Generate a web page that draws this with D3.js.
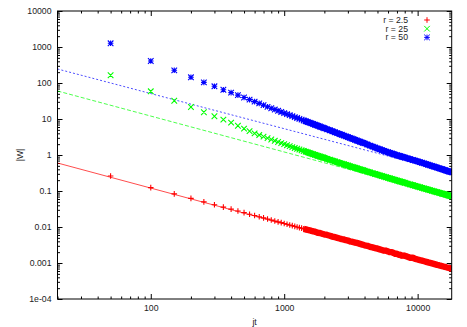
<!DOCTYPE html>
<html><head><meta charset="utf-8">
<script src="https://cdn.jsdelivr.net/npm/d3@7"></script>
<style>
body{margin:0;background:#fff}
svg{display:block}
text{font-family:"Liberation Sans",Arial,sans-serif;font-size:8.7px;fill:#222}
</style>
</head><body>
<svg id="c" width="467" height="327"></svg>
<script>
// ---- data ----
const tValues = [50,100,150,200,250,300,350,400,450,500,550,600,650,700,750,800,850,900,950,1000,
  1050,1100,1150,1200,1250,1300,1350,1400,1450,1500,1550,1600,1650,1700,1750,1800,1850,1900,1950,2000,
  2100,2200,2300,2400,2500,2600,2700,2800,2900,3000,3100,3200,3300,3400,3500,3600,3700,3800,3900,4000,
  4200,4400,4600,4800,5000,5200,5400,5600,5800,6000,6200,6400,6600,6800,7000,7200,7400,7600,7800,8000,
  8400,8800,9200,9600,10000,10400,10800,11200,11600,12000,12400,12800,13200,13600,14000,14400,14800,15200,15600,16000,16400,16800,17200,17600,18000];

const redValues = [0.26,0.124,0.0833,0.0625,0.05,0.0417,0.0357,0.0313,0.0278,0.025,0.0227,0.0208,0.0192,0.0179,0.0167,0.0156,0.0147,0.0139,0.0132,0.0125,
  0.0119,0.0114,0.0109,0.0104,0.01,0.0096,0.0093,0.0089,0.0086,0.0083,0.0081,0.0078,0.0076,0.0074,0.0071,0.0069,0.0068,0.0066,0.0064,0.00625,
  0.006,0.0057,0.0054,0.0052,0.005,0.0048,0.0046,0.0045,0.0043,0.0042,0.004,0.0039,0.0038,0.0037,0.0036,0.0035,0.0034,0.0033,0.0032,0.0031,
  0.003,0.0028,0.0027,0.0026,0.0025,0.0024,0.0023,0.0022,0.0022,0.0021,0.002,0.002,0.0019,0.0018,0.0018,0.0017,0.0017,0.0016,0.0016,0.0016,
  0.0015,0.0014,0.0014,0.0013,0.00125,0.0012,0.00116,0.00112,0.00108,0.00104,0.00101,0.00098,0.00095,0.00092,0.00089,0.00087,0.00084,0.00082,0.0008,0.00078,0.00076,0.00074,0.00073,0.00071,0.00069];

const greenValues = [164,58.8,32.2,21.5,15.4,11.9,9.6,7.9,6.5,5.4,4.6,4.0,3.58,3.23,2.94,2.69,2.48,2.30,2.14,2.0,
  1.87,1.76,1.66,1.57,1.49,1.42,1.35,1.29,1.24,1.18,1.14,1.09,1.05,1.01,0.977,0.94,0.912,0.88,0.855,0.83,
  0.781,0.738,0.700,0.665,0.63,0.604,0.578,0.554,0.531,0.51,0.491,0.473,0.457,0.441,0.427,0.413,0.400,0.388,0.377,0.366,
  0.346,0.328,0.312,0.297,0.284,0.272,0.261,0.250,0.241,0.232,0.223,0.216,0.209,0.202,0.195,0.190,0.184,0.179,0.174,0.169,
  0.160,0.152,0.145,0.1386,0.133,0.1272,0.1221,0.1174,0.1131,0.109,0.1054,0.1019,0.0986,0.0955,0.0926,0.0899,0.0873,0.0849,0.0826,0.0805,0.0784,0.0764,0.0745,0.0728,0.0711];

const blueValues = [1268,408,225,144,104,81,65,54,46,39.5,34.5,30.3,27.1,24.3,21.8,19.9,18.3,16.9,15.7,14.6,
  13.7,12.8,12.0,11.3,10.7,10.1,9.6,9.12,8.69,8.28,7.92,7.57,7.25,6.95,6.68,6.42,6.18,5.95,5.74,5.54,
  5.17,4.85,4.55,4.29,4.05,3.84,3.64,3.46,3.29,3.14,3.00,2.87,2.75,2.64,2.53,2.43,2.34,2.25,2.18,2.10,
  1.95,1.82,1.71,1.61,1.52,1.44,1.37,1.30,1.245,1.19,1.145,1.10,1.06,1.023,0.988,0.956,0.927,0.899,0.874,0.850,
  0.806,0.766,0.729,0.696,0.665,0.636,0.609,0.583,0.559,0.537,0.516,0.497,0.479,0.462,0.446,0.431,0.417,0.404,0.392,0.380,0.369,0.358,0.348,0.339,0.330];

// fitted power-law lines (values at the two ends of the x range)
const fitT = [20, 18000];
const redFit = [0.6, 0.00068];
const greenFit = [60, 0.068];
const blueFit = [245, 0.32];

const seriesNames = ["r = 2.5", "r = 25", "r = 50"];
const xTickValues = [100, 1000, 10000];
const xTickLabels = ["100", "1000", "10000"];
const yTickValues = [1e-4, 1e-3, 1e-2, 1e-1, 1, 10, 100, 1000, 10000];
const yTickLabels = ["1e-04", "0.001", "0.01", "0.1", "1", "10", "100", "1000", "10000"];
const xTitle = "jt", yTitle = "|W|";

// ---- layout ----
const L = 57.5, R = 451.7, T = 11, B = 299;
const svg = d3.select("#c");
const x = d3.scaleLog().domain([20, 18000]).range([L, R]);
const y = d3.scaleLog().domain([1e-4, 1e4]).range([B, T]);

const xMinor = [], yMinor = [];
for (let e = 1; e <= 4; e++) for (let k = 2; k <= 9; k++) { const v = k * Math.pow(10, e); if (v >= 20 && v <= 18000) xMinor.push(v); }
for (let e = -4; e <= 3; e++) for (let k = 2; k <= 9; k++) yMinor.push(k * Math.pow(10, e));

const MAJ = 5, MIN = 2.5;
function styleAxis(g) { g.select(".domain").remove(); g.selectAll("line").attr("stroke", "#000"); }
function styleText(g) { g.selectAll("text").attr("fill", "#222").style("font-size", "8.7px").style("font-family", null); }

// bottom
svg.append("g").attr("transform", `translate(0,${B})`)
  .call(d3.axisBottom(x).tickValues(xTickValues).tickFormat((d, i) => xTickLabels[i]).tickSize(-MAJ).tickPadding(6))
  .call(styleAxis).call(styleText);
svg.append("g").attr("transform", `translate(0,${B})`)
  .call(d3.axisBottom(x).tickValues(xMinor).tickFormat("").tickSize(-MIN)).call(styleAxis);
// top
svg.append("g").attr("transform", `translate(0,${T})`)
  .call(d3.axisTop(x).tickValues(xTickValues).tickFormat("").tickSize(-MAJ)).call(styleAxis);
svg.append("g").attr("transform", `translate(0,${T})`)
  .call(d3.axisTop(x).tickValues(xMinor).tickFormat("").tickSize(-MIN)).call(styleAxis);
// left
svg.append("g").attr("transform", `translate(${L},0)`)
  .call(d3.axisLeft(y).tickValues(yTickValues).tickFormat((d, i) => yTickLabels[i]).tickSize(-MAJ).tickPadding(6))
  .call(styleAxis).call(styleText);
svg.append("g").attr("transform", `translate(${L},0)`)
  .call(d3.axisLeft(y).tickValues(yMinor).tickFormat("").tickSize(-MIN)).call(styleAxis);
// right
svg.append("g").attr("transform", `translate(${R},0)`)
  .call(d3.axisRight(y).tickValues(yTickValues).tickFormat("").tickSize(-MAJ)).call(styleAxis);
svg.append("g").attr("transform", `translate(${R},0)`)
  .call(d3.axisRight(y).tickValues(yMinor).tickFormat("").tickSize(-MIN)).call(styleAxis);

// clip
svg.append("clipPath").attr("id", "clip").append("rect")
  .attr("x", L).attr("y", T).attr("width", R - L).attr("height", B - T);
const plot = svg.append("g").attr("clip-path", "url(#clip)");

const colors = ["#ff0000", "#00ff00", "#0000ff"];
const fits = [redFit, greenFit, blueFit];
const dashes = [null, "4,2", "2,2"];
const line = d3.line().x(d => x(d[0])).y(d => y(d[1]));
fits.forEach((f, i) => {
  plot.append("path").attr("d", line(fitT.map((t, j) => [t, f[j]])))
    .attr("fill", "none").attr("stroke", colors[i]).attr("stroke-width", 1)
    .attr("stroke-opacity", 0.7).attr("stroke-dasharray", dashes[i]);
});

const S = 2.8;
const markers = {
  plus: (px, py) => `M${px - S},${py}h${2 * S}M${px},${py - S}v${2 * S}`,
  cross: (px, py) => `M${px - S},${py - S}l${2 * S},${2 * S}M${px - S},${py + S}l${2 * S},${-2 * S}`,
  star: (px, py) => `M${px - S},${py}h${2 * S}M${px},${py - S}v${2 * S}M${px - S},${py - S}l${2 * S},${2 * S}M${px - S},${py + S}l${2 * S},${-2 * S}`
};
const kinds = ["plus", "cross", "star"];
const seriesValues = [redValues, greenValues, blueValues];
const BAND_FROM = 1400; // where the original markers are packed into a solid band
seriesValues.forEach((vals, i) => {
  const pts = tValues.map((t, j) => [t, vals[j]]);
  // packed markers merge into a solid band
  plot.append("path").attr("d", line(pts.filter(p => p[0] >= BAND_FROM)))
    .attr("fill", "none").attr("stroke", colors[i]).attr("stroke-width", 6.4)
    .attr("stroke-linecap", "butt").attr("stroke-linejoin", "round");
  const d = pts.map(p => markers[kinds[i]](x(p[0]), y(p[1]))).join("");
  plot.append("path").attr("d", d).attr("fill", "none").attr("stroke", colors[i]).attr("stroke-width", 1.1);
});

// frame
svg.append("rect").attr("x", L).attr("y", T).attr("width", R - L).attr("height", B - T)
  .attr("fill", "none").attr("stroke", "#000").attr("stroke-width", 1);

// titles
svg.append("text").attr("x", (L + R) / 2).attr("y", 325).attr("text-anchor", "middle").text(xTitle);
svg.append("text").attr("transform", `translate(23,${(T + B) / 2}) rotate(-90)`).attr("text-anchor", "middle").text(yTitle);

// legend
const legY = [20, 28.7, 37.4];
seriesNames.forEach((n, i) => {
  svg.append("text").attr("x", 408).attr("y", legY[i] + 3).attr("text-anchor", "end").text(n);
  svg.append("path").attr("d", markers[kinds[i]](427, legY[i])).attr("fill", "none").attr("stroke", colors[i]).attr("stroke-width", 1);
});
</script>
</body></html>
